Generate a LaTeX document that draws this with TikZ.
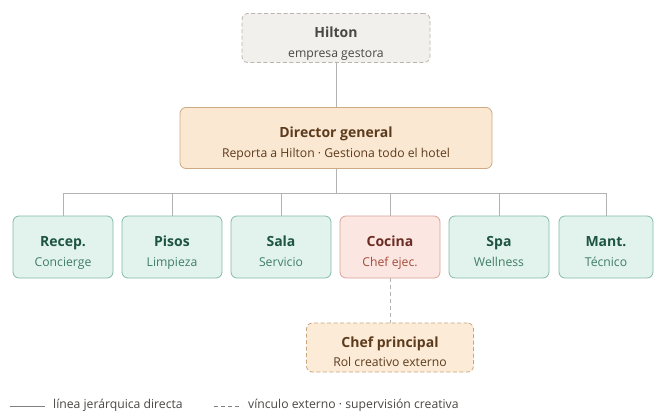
\documentclass[tikz,border=0pt]{standalone}
\usepackage{fontspec}
\setmainfont{Open Sans}
\usetikzlibrary{calc}
\definecolor{linegray}{HTML}{B2B2B2}
\definecolor{hqfill}{HTML}{F2F0EC}
\definecolor{hqdraw}{HTML}{B9B5AE}
\definecolor{hqtext}{HTML}{4A4744}
\definecolor{dirfill}{HTML}{FBE8D2}
\definecolor{dirdraw}{HTML}{CDAA80}
\definecolor{dirtext}{HTML}{5C3B1C}
\definecolor{deptfill}{HTML}{E1F3EC}
\definecolor{deptdraw}{HTML}{86BBA7}
\definecolor{depttitle}{HTML}{1E5442}
\definecolor{deptsub}{HTML}{3F7D67}
\definecolor{kitfill}{HTML}{FCE6E1}
\definecolor{kitdraw}{HTML}{D9A398}
\definecolor{kittitle}{HTML}{6B2C22}
\definecolor{kitsub}{HTML}{A34C3C}
\definecolor{cheffill}{HTML}{FCEBD7}
\definecolor{chefdraw}{HTML}{C9A57D}
\tikzset{x=1pt,y=-1pt,
 unit/.style={draw, rounded corners=6pt, line width=0.8pt, align=center,
   inner sep=0pt, font=\fontsize{12.2}{14}\selectfont},
 hq/.style={unit, dashed, dash pattern=on 4pt off 2.5pt, draw=hqdraw, fill=hqfill,
   minimum width=188pt, minimum height=49pt},
 director/.style={unit, draw=dirdraw, fill=dirfill, minimum width=312pt, minimum height=61pt},
 dept/.style={unit, draw=deptdraw, fill=deptfill, minimum height=62pt},
 kitchen/.style={unit, draw=kitdraw, fill=kitfill, minimum width=100pt, minimum height=62pt},
 chef/.style={unit, dashed, dash pattern=on 4pt off 2.5pt, draw=chefdraw, fill=cheffill,
   minimum width=167pt, minimum height=49pt},
 tree line/.style={draw=linegray, line width=0.9pt},
 ext line/.style={tree line, dash pattern=on 4pt off 3pt},
 legend/.style={anchor=west, inner sep=0pt, text=hqtext, font=\fontsize{12.2}{14}\selectfont},
}
\newcommand{\unitlabel}[4]{{\fontsize{14}{16}\selectfont\bfseries\color{#1}\rule{0pt}{23pt}#3}\\[5.5pt]{\color{#2}#4\rule[-4pt]{0pt}{4pt}}}

\begin{document}
\begin{tikzpicture}
    \useasboundingbox[fill=white] (0,0) rectangle (654,412);

    % top of the tree
    \node[hq] (hilton) at (336,38) {\unitlabel{hqtext}{hqtext}{Hilton}{empresa gestora}};
    \node[director] (dirgen) at (336,138)
        {\unitlabel{dirtext}{dirtext}{Director general}{Reporta a Hilton · Gestiona todo el hotel}};
    \draw[tree line] (hilton) -- (dirgen);

    % departments
    \coordinate (bus) at (336,193);
    \draw[tree line] (dirgen) -- (bus);
    \foreach \name/\x/\w/\title/\sub in {recep/63/100/Recep./Concierge,
        pisos/172/100/Pisos/Limpieza, sala/281/100/Sala/Servicio,
        spa/499/100/Spa/Wellness, mant/606/94/Mant./Técnico}
    {
        \node[dept, minimum width=\w pt] (\name) at (\x,247)
            {\unitlabel{depttitle}{deptsub}{\title}{\sub}};
        \draw[tree line] (bus) -| (\name.north);
    }
    \node[kitchen] (cocina) at (390,247) {\unitlabel{kittitle}{kitsub}{Cocina}{Chef ejec.}};
    \draw[tree line] (bus) -| (cocina.north);

    % external chef
    \node[chef] (chefpr) at (390,347.5)
        {\unitlabel{dirtext}{dirtext}{Chef principal}{Rol creativo externo}};
    \draw[ext line] (cocina) -- (chefpr);

    % legend
    \coordinate (solidA) at (10,406);
    \coordinate (solidB) at (45,406);
    \draw[tree line, draw=gray] (solidA) -- (solidB);
    \node[legend] (solidtext) at (53,405) {línea jerárquica directa};
    \coordinate (dashA) at (214,406);
    \coordinate (dashB) at (242,406);
    \draw[ext line, draw=gray] (dashA) -- (dashB);
    \node[legend] (dashtext) at (248,405) {vínculo externo · supervisión creativa};
\end{tikzpicture}
\end{document}
